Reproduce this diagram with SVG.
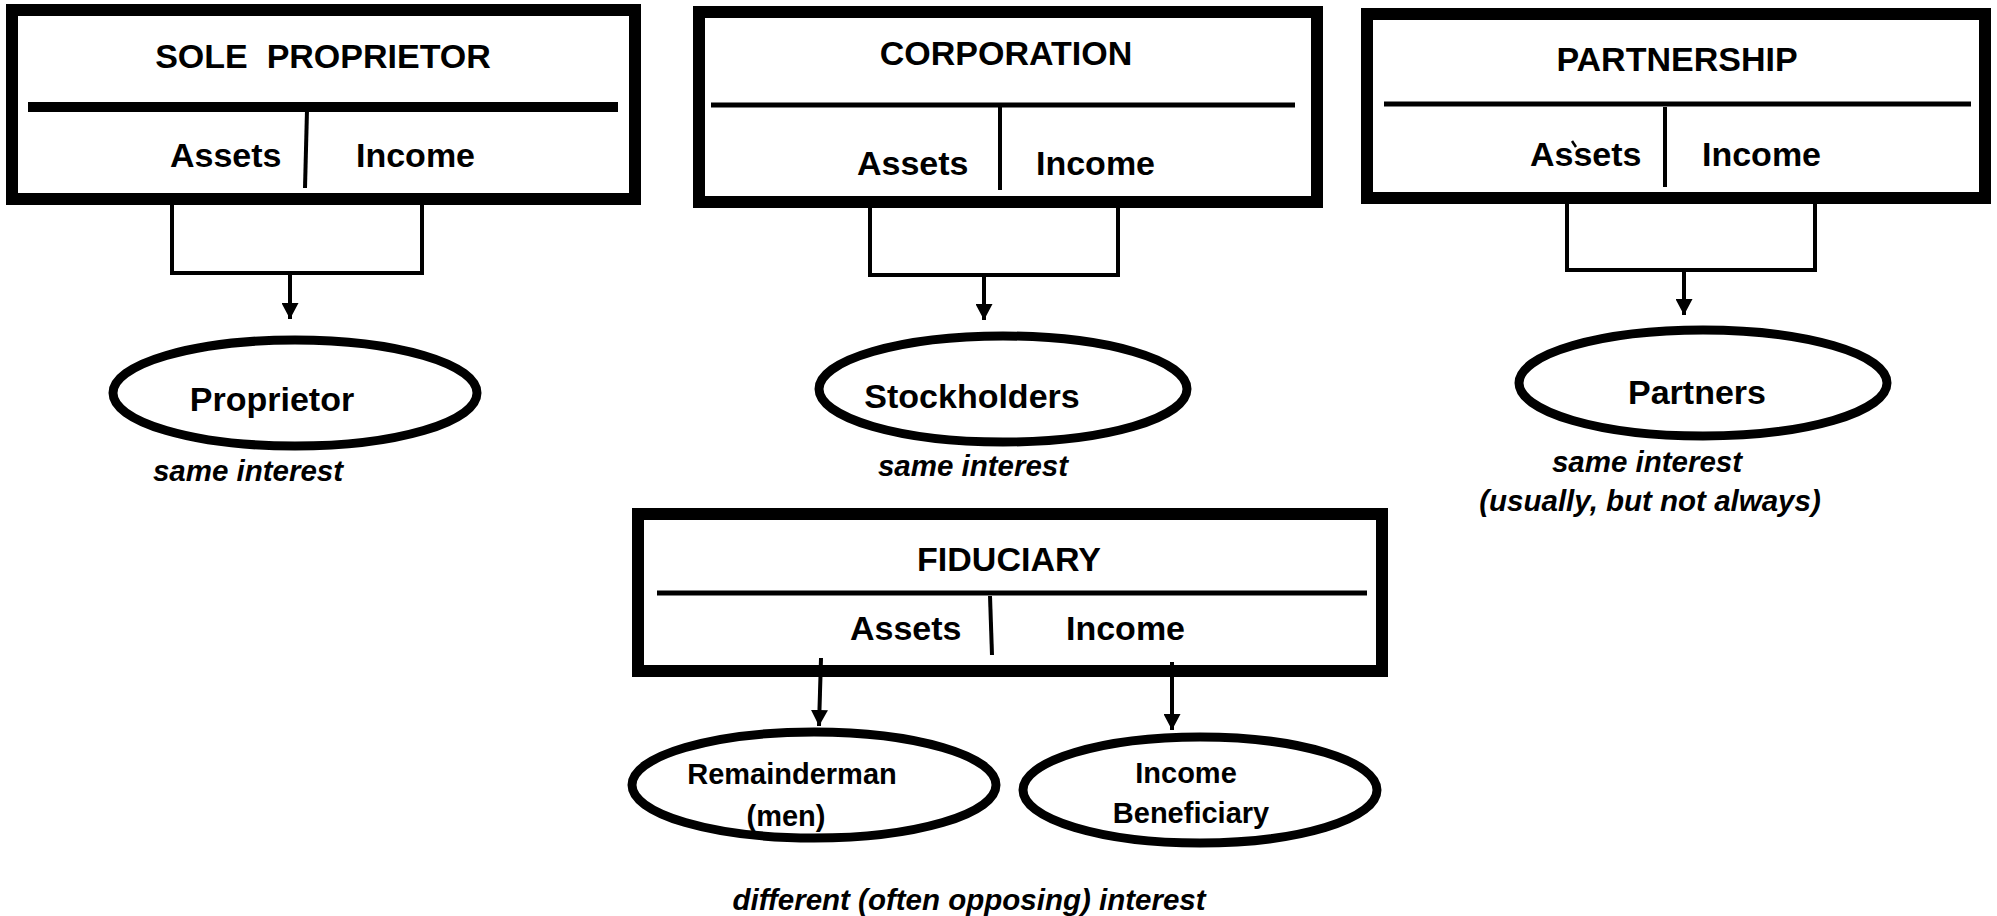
<svg xmlns="http://www.w3.org/2000/svg" width="1997" height="916" viewBox="0 0 1997 916">
<style>
.box{fill:none;stroke:#000;stroke-width:12}
.div{stroke:#000;fill:none}
.ell{fill:none;stroke:#000;stroke-width:9}
.t{font-family:"Liberation Sans",Arial,sans-serif;font-weight:bold;font-size:34px;fill:#000}
.s{font-family:"Liberation Sans",Arial,sans-serif;font-weight:bold;font-size:29px;fill:#000}
.i{font-family:"Liberation Sans",Arial,sans-serif;font-weight:bold;font-style:italic;font-size:29.5px;fill:#000}
.c{text-anchor:middle}
.con{fill:none;stroke:#000;stroke-width:4}
</style>
<defs>
<marker id="ah" markerUnits="userSpaceOnUse" markerWidth="17" markerHeight="17" viewBox="0 0 17 17" refX="16" refY="8.5" orient="auto">
<path d="M0,0 L16,8.5 L0,17 Z" fill="#000"/>
</marker>
</defs>
<rect width="1997" height="916" fill="#fff"/>
<g id="sole-proprietor">
<rect class="box" x="12" y="10" width="623" height="189"/>
<line class="div" x1="28" y1="107" x2="618" y2="107" stroke-width="10"/>
<line class="div" x1="307" y1="110" x2="305" y2="188" stroke-width="4"/>
<text class="t c" x="323" y="68" xml:space="preserve">SOLE  PROPRIETOR</text>
<text class="t" x="170" y="167">Assets</text>
<text class="t" x="356" y="167">Income</text>
</g>
<g id="corporation">
<rect class="box" x="699" y="12" width="618" height="190"/>
<line class="div" x1="711" y1="105" x2="1295" y2="105" stroke-width="5"/>
<line class="div" x1="1000" y1="107" x2="1000" y2="190" stroke-width="4"/>
<text class="t c" x="1006" y="65">CORPORATION</text>
<text class="t" x="857" y="175">Assets</text>
<text class="t" x="1036" y="175">Income</text>
</g>
<g id="partnership">
<rect class="box" x="1367" y="14" width="618" height="184"/>
<line class="div" x1="1384" y1="104" x2="1971" y2="104" stroke-width="5"/>
<line class="div" x1="1665" y1="107" x2="1665" y2="187" stroke-width="4"/>
<text class="t c" x="1677" y="71">PARTNERSHIP</text>
<text class="t" x="1530" y="166">Assets</text>
<line class="div" x1="1572" y1="141" x2="1576" y2="147" stroke-width="2.5"/>
<text class="t" x="1702" y="166">Income</text>
</g>
<g id="fiduciary">
<rect class="box" x="638" y="514" width="744" height="157"/>
<line class="div" x1="657" y1="593" x2="1367" y2="593" stroke-width="5"/>
<line class="div" x1="990" y1="596" x2="992" y2="655" stroke-width="4"/>
<text class="t c" x="1009" y="571">FIDUCIARY</text>
<text class="t" x="850" y="640">Assets</text>
<text class="t" x="1066" y="640">Income</text>
</g>
<g id="proprietor">
<ellipse class="ell" cx="295" cy="393" rx="182" ry="53"/>
<text class="t c" x="272" y="411">Proprietor</text>
</g>
<g id="stockholders">
<ellipse class="ell" cx="1003" cy="389" rx="184" ry="53"/>
<text class="t c" x="972" y="408">Stockholders</text>
</g>
<g id="partners">
<ellipse class="ell" cx="1703" cy="383" rx="184" ry="53"/>
<text class="t c" x="1697" y="404">Partners</text>
</g>
<g id="remainderman">
<ellipse class="ell" cx="814" cy="785" rx="182" ry="53"/>
<text class="s c" x="792" y="784">Remainderman</text>
<text class="s c" x="786" y="826">(men)</text>
</g>
<g id="income-beneficiary">
<ellipse class="ell" cx="1200" cy="790" rx="177" ry="53"/>
<text class="s c" x="1186" y="783">Income</text>
<text class="s c" x="1191" y="823">Beneficiary</text>
</g>
<g id="connectors">
<path class="con" d="M172,205 V273 H422 V205"/>
<path class="con" d="M870,208 V275 H1118 V208"/>
<path class="con" d="M1567,203 V270 H1815 V203"/>
<line class="con" x1="290" y1="273" x2="290" y2="319" marker-end="url(#ah)"/>
<line class="con" x1="984" y1="275" x2="984" y2="320" marker-end="url(#ah)"/>
<line class="con" x1="1684" y1="270" x2="1684" y2="315" marker-end="url(#ah)"/>
<line class="con" x1="821" y1="658" x2="819" y2="726" marker-end="url(#ah)"/>
<line class="con" x1="1172" y1="662" x2="1172" y2="730" marker-end="url(#ah)"/>
</g>
<g id="notes">
<text class="i c" x="248" y="481">same interest</text>
<text class="i c" x="973" y="476">same interest</text>
<text class="i c" x="1647" y="472">same interest</text>
<text class="i c" x="1650" y="511">(usually, but not always)</text>
<text class="i c" x="969" y="910">different (often opposing) interest</text>
</g>
</svg>
